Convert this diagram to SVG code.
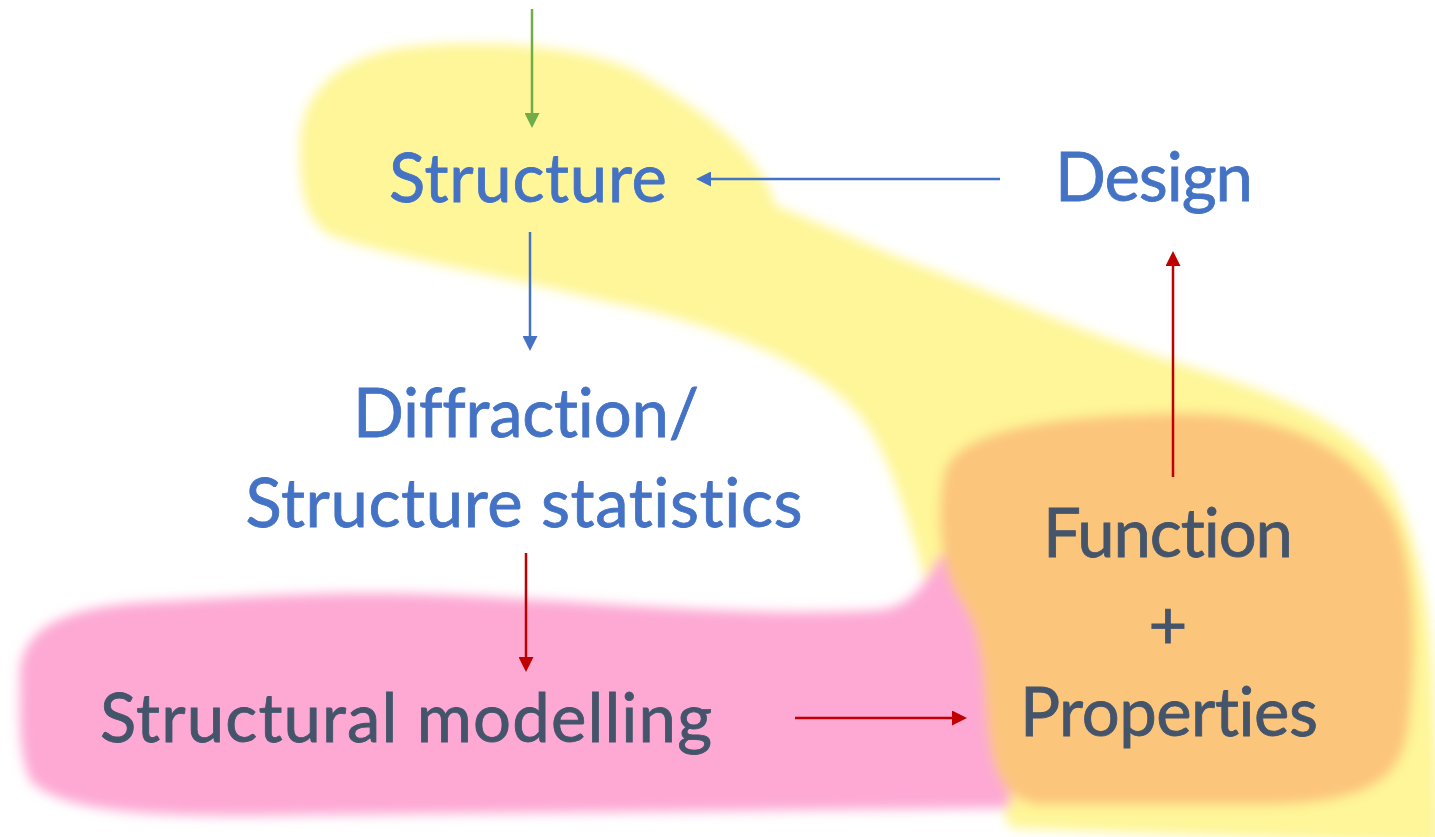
<svg xmlns="http://www.w3.org/2000/svg" width="1435" height="837" viewBox="0 0 1435 837">
<style>
.t{font-family:Lato,"Open Sans","Liberation Sans",sans-serif;font-size:67px;text-anchor:middle;font-variant-ligatures:none;font-feature-settings:"liga" 0;stroke-width:0.8}
.b{fill:#4472C4;stroke:#4472C4}
.d{fill:#44546A;stroke:#44546A}
.c{fill:none;stroke-width:2.5}
</style>
<defs>
<filter id="soft" x="-10%" y="-10%" width="120%" height="120%"><feGaussianBlur stdDeviation="6"/></filter>
<marker id="hg" markerUnits="userSpaceOnUse" markerWidth="15" markerHeight="15" refX="0" refY="7.5" orient="auto"><path d="M0,0 L15,7.5 L0,15 Z" fill="#70AD47"/></marker>
<marker id="hb" markerUnits="userSpaceOnUse" markerWidth="15" markerHeight="15" refX="0" refY="7.5" orient="auto"><path d="M0,0 L15,7.5 L0,15 Z" fill="#4472C4"/></marker>
<marker id="hr" markerUnits="userSpaceOnUse" markerWidth="15" markerHeight="15" refX="0" refY="7.5" orient="auto"><path d="M0,0 L15,7.5 L0,15 Z" fill="#C00000"/></marker>
</defs>
<g id="blobs" filter="url(#soft)">
<path id="yellow" fill="#FEF698" d="M300,150 C298,100 330,60 400,48 C480,38 600,45 650,80 C700,110 760,150 775,205 L900,258 C1000,295 1100,340 1200,370 C1290,398 1360,430 1390,480 C1420,540 1432,620 1434,690 L1440,845 L1010,828 L930,600 C915,540 895,470 870,430 C840,380 750,330 600,300 C500,275 380,255 330,235 C305,220 300,190 300,150 Z"/>
<path id="pink" fill="#FDA9D4" d="M20,680 C18,630 60,607 150,602 C250,597 330,590 450,595 C600,602 750,618 880,610 C920,605 930,570 940,555 L1000,560 L1010,808 L300,815 C150,818 60,812 30,780 C18,750 20,720 20,680 Z"/>
<path id="orange" fill="#FCC57B" d="M945,470 C960,430 1050,415 1180,413 C1290,413 1360,450 1395,520 C1420,580 1415,680 1408,730 C1400,790 1350,805 1250,805 L1040,805 C995,800 990,760 985,700 C982,650 975,620 960,600 C940,570 935,510 945,470 Z"/>
</g>
<g id="connectors">
<line class="c" stroke="#70AD47" x1="532" y1="9" x2="532" y2="113" marker-end="url(#hg)"/>
<line class="c" stroke="#4472C4" x1="1000" y1="179" x2="711" y2="179" marker-end="url(#hb)"/>
<line class="c" stroke="#4472C4" x1="530" y1="232" x2="530" y2="336" marker-end="url(#hb)"/>
<line class="c" stroke="#C00000" x1="526" y1="553" x2="526" y2="657" marker-end="url(#hr)"/>
<line class="c" stroke="#C00000" x1="795" y1="718" x2="952" y2="718" marker-end="url(#hr)"/>
<line class="c" stroke="#C00000" x1="1173" y1="477" x2="1173" y2="266" marker-end="url(#hr)"/>
</g>
<g id="structure"><text class="t b" x="528" y="202" textLength="278">Structure</text></g>
<g id="design"><text class="t b" x="1154" y="201" textLength="198">Design</text></g>
<g id="diffraction"><text class="t b" x="526" y="437" textLength="346">Diffraction/</text><text class="t b" x="524" y="527" textLength="557">Structure statistics</text></g>
<g id="modelling"><text class="t d" x="406" y="742" textLength="612">Structural modelling</text></g>
<g id="function"><text class="t d" x="1168" y="557" textLength="250">Function</text><text class="t d" x="1168" y="649">+</text><text class="t d" x="1169" y="736" textLength="298">Properties</text></g>
</svg>
